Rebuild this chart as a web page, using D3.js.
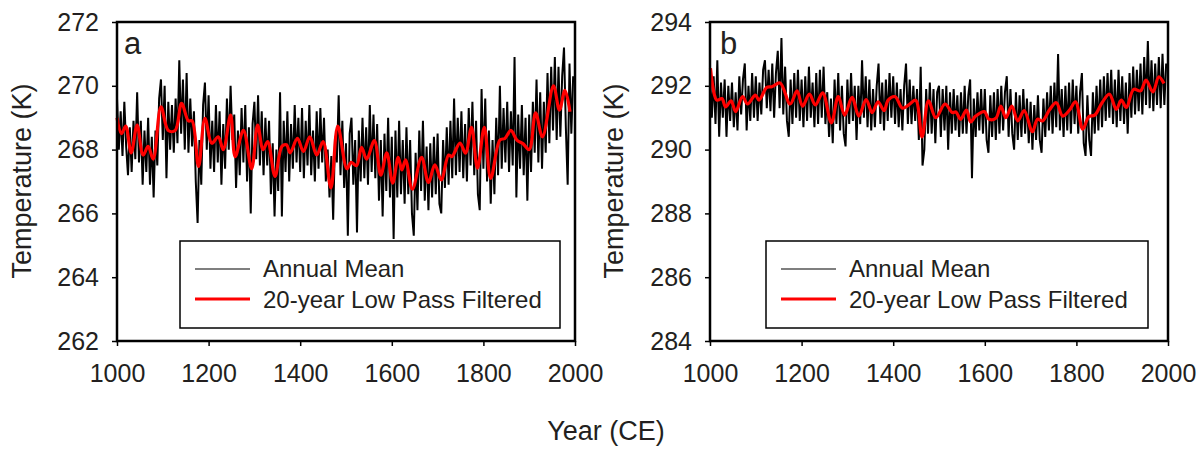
<!DOCTYPE html>
<html>
<head>
<meta charset="utf-8">
<script src="https://cdn.jsdelivr.net/npm/d3@7"></script>
<style>
  body { margin: 0; background: #fff; }
</style>
</head>
<body>
<div id="chart"></div>
<script>
// Annual means, one value every 4 years (1000 ... 1996)
const annualYears = d3.range(1000, 2000, 4);

const annualA = [
  269.6, 268.0, 269.2, 267.8, 269.5, 268.1, 267.2, 268.7, 267.3, 268.9,
  267.7, 269.8, 267.6, 268.9, 266.9, 268.6, 267.3, 269.0, 266.9, 268.4,
  266.5, 268.6, 267.5, 269.6, 270.2, 268.3, 270.0, 267.1, 269.5, 268.0,
  269.4, 267.9, 269.6, 268.2, 270.8, 268.5, 270.2, 268.0, 270.4, 267.9,
  269.6, 268.1, 269.2, 267.0, 265.7, 268.3, 266.9, 269.4, 270.1, 268.0,
  269.7, 267.4, 268.9, 267.3, 269.4, 267.6, 269.2, 266.9, 268.8, 267.4,
  269.6, 268.0, 270.0, 268.3, 269.1, 266.8, 268.6, 267.2, 269.3, 267.6,
  269.4, 267.0, 268.7, 266.0, 268.8, 269.5, 267.7, 269.7, 267.5, 269.2,
  267.2, 269.0, 267.5, 268.9, 266.6, 268.2, 265.9, 268.0, 266.7, 269.8,
  265.9, 268.9, 267.3, 269.2, 267.0, 268.8, 267.4, 269.4, 267.6, 269.0,
  267.3, 269.3, 267.1, 268.9, 267.5, 269.4, 267.2, 268.6, 267.0, 269.2,
  267.4, 269.3, 267.6, 269.0, 267.0, 268.0, 266.5, 267.8, 265.8, 268.4,
  267.6, 269.7, 267.2, 268.9, 266.8, 268.2, 265.3, 268.5, 269.0, 266.9,
  268.3, 265.4, 268.6, 267.0, 269.0, 267.1, 268.7, 266.9, 269.4, 267.3,
  269.1, 267.1, 268.8, 266.4, 268.3, 265.9, 268.5, 266.7, 269.0, 266.5,
  268.4, 265.2, 268.6, 266.5, 268.9, 266.6, 268.3, 266.3, 268.7, 266.6,
  268.3, 266.0, 265.3, 267.9, 266.1, 268.6, 266.7, 268.9, 266.4, 268.1,
  266.1, 268.2, 266.5, 268.4, 266.6, 268.5, 266.3, 266.0, 268.3, 266.8,
  268.7, 266.9, 268.9, 267.1, 269.6, 267.2, 269.0, 267.3, 269.2, 267.1,
  268.8, 267.0, 269.3, 267.5, 269.5, 267.2, 268.9, 266.6, 266.1, 269.9,
  267.4, 269.6, 267.0, 268.6, 266.3, 268.3, 266.6, 269.0, 267.2, 270.0,
  267.4, 269.3, 267.6, 269.5, 267.3, 269.2, 267.5, 270.9, 266.5, 269.1,
  267.4, 269.4, 267.2, 269.0, 266.4, 269.1, 267.3, 269.5, 267.9, 270.2,
  267.6, 269.8, 267.4, 269.5, 267.9, 270.4, 268.2, 270.6, 268.6, 270.9,
  268.3, 270.6, 268.4, 270.3, 271.2, 268.7, 266.9, 270.7, 268.5, 270.3
];

const annualB = [
  292.4, 291.0, 292.3, 290.8, 292.8, 290.4, 292.1, 291.0, 292.2, 290.4,
  292.0, 290.9, 292.1, 290.7, 291.8, 290.6, 292.3, 291.1, 292.2, 292.7,
  290.6, 292.0, 290.9, 292.4, 291.0, 292.3, 290.9, 292.1, 291.1, 292.5,
  292.8, 291.3, 292.5, 291.2, 292.7, 291.0, 292.4, 293.1, 291.3, 293.5,
  291.1, 292.6, 290.9, 290.4, 292.2, 290.8, 292.4, 291.0, 292.5, 290.9,
  292.2, 290.7, 292.3, 290.9, 292.6, 291.0, 292.1, 290.7, 292.4, 290.8,
  292.5, 291.0, 292.6, 290.8, 291.8, 290.4, 291.6, 290.2, 292.2, 290.8,
  292.4, 290.6, 292.0, 290.5, 290.1, 292.2, 290.8, 292.4, 290.9, 292.0,
  290.3, 292.0, 290.8, 292.8, 291.0, 292.3, 290.7, 292.2, 290.6, 291.9,
  290.7, 292.0, 292.7, 290.8, 292.1, 290.6, 292.2, 290.9, 292.4, 291.0,
  292.3, 290.8, 292.1, 290.7, 291.9, 290.6, 292.0, 292.7, 290.8, 292.2,
  290.8, 292.0, 290.9, 291.9, 290.3, 292.6, 289.5, 290.0, 291.9, 290.5,
  292.1, 290.5, 291.9, 290.2, 291.8, 292.0, 290.4, 291.9, 290.6, 292.0,
  290.0, 291.8, 290.5, 291.9, 290.6, 291.7, 290.4, 291.8, 290.5, 292.0,
  290.5, 291.7, 292.2, 289.1, 291.6, 290.4, 291.8, 290.6, 291.9, 290.5,
  291.9, 290.3, 289.9, 291.7, 290.4, 291.8, 290.3, 291.9, 290.5, 292.0,
  290.6, 291.8, 292.3, 290.4, 291.9, 290.5, 290.0, 291.8, 290.3, 291.7,
  290.4, 291.9, 290.5, 291.6, 290.2, 291.5, 290.0, 291.4, 290.3, 291.7,
  290.3, 289.9, 291.6, 290.4, 291.8, 290.6, 292.0, 290.5, 292.1, 290.7,
  293.0, 290.6, 291.9, 290.4, 292.0, 290.6, 292.1, 290.5, 292.2, 290.8,
  292.0, 290.5, 291.8, 292.4, 290.2, 289.8, 291.7, 290.3, 289.8, 291.8,
  290.5, 292.0, 290.6, 292.2, 290.7, 292.3, 290.9, 292.4, 291.0, 292.5,
  290.8, 292.2, 290.7, 292.5, 290.9, 292.3, 290.8, 292.1, 290.5, 292.4,
  291.0, 292.6, 291.1, 292.5, 291.2, 292.7, 291.1, 292.9, 291.4, 293.4,
  291.3, 292.8, 291.2, 292.7, 291.4, 292.9, 291.3, 293.0, 291.4, 292.7
];

// 20-year low pass filtered series (turning points)
const filtYearsA = [1000, 1010, 1019, 1031, 1044, 1057, 1068, 1079, 1096, 1112, 1127, 1141, 1156, 1164,
  1178, 1192, 1207, 1221, 1232, 1248, 1258, 1276, 1294, 1307, 1319, 1329, 1345, 1360, 1370, 1378,
  1394, 1407, 1421, 1436, 1450, 1467, 1482, 1502, 1511, 1523, 1534, 1545, 1562, 1576, 1589, 1602,
  1614, 1622, 1630, 1645, 1665, 1680, 1694, 1708, 1724, 1731, 1749, 1761, 1774, 1787, 1802, 1816,
  1836, 1847, 1860, 1873, 1887, 1900, 1914, 1929, 1953, 1966, 1978, 1989];
const filtA = [269.0, 268.5, 268.74, 267.9, 268.77, 267.83, 268.1, 267.7, 269.34, 268.6, 268.6, 269.45, 268.9, 268.9,
  267.47, 268.98, 268.2, 268.4, 268.0, 269.08, 267.78, 268.6, 267.4, 268.77, 268.0, 268.25, 267.16, 268.1, 268.15, 267.9,
  268.35, 267.94, 268.4, 267.83, 268.25, 266.8, 268.74, 267.4, 267.6, 267.5, 268.07, 267.7, 268.28, 267.2, 267.9, 266.95,
  267.76, 267.36, 267.68, 266.76, 267.76, 266.97, 267.52, 267.05, 267.83, 267.78, 268.2, 267.89, 268.7, 267.42, 268.7, 267.1,
  268.3, 268.35, 268.6, 268.3, 268.18, 268.0, 269.15, 268.4, 270.0, 269.24, 269.86, 269.19];

const filtYearsB = [1001, 1015, 1026, 1034, 1046, 1056, 1071, 1082, 1099, 1107, 1124, 1135, 1153, 1175,
  1190, 1202, 1217, 1230, 1246, 1265, 1280, 1294, 1310, 1325, 1341, 1354, 1367, 1380, 1389, 1404,
  1420, 1434, 1449, 1463, 1477, 1493, 1513, 1529, 1537, 1547, 1560, 1569, 1580, 1599, 1609, 1624,
  1635, 1646, 1659, 1672, 1686, 1704, 1715, 1726, 1741, 1756, 1770, 1785, 1798, 1814, 1827, 1840,
  1856, 1872, 1887, 1898, 1909, 1925, 1940, 1952, 1967, 1980, 1991];
const filtB = [292.55, 291.55, 291.6, 291.34, 291.53, 291.19, 291.66, 291.43, 291.71, 291.55, 291.95, 291.97, 292.09, 291.43,
  291.84, 291.36, 291.74, 291.4, 291.78, 290.84, 291.66, 291.08, 291.64, 291.05, 291.57, 291.16, 291.5, 291.22, 291.55, 291.66,
  291.3, 291.4, 291.55, 290.4, 291.53, 291.0, 291.43, 291.16, 291.18, 290.95, 291.24, 290.87, 291.05, 291.19, 290.95, 290.98,
  291.36, 291.0, 291.36, 290.9, 291.22, 290.56, 290.95, 290.9, 291.24, 291.47, 291.05, 291.24, 291.5, 290.64, 291.03, 291.08,
  291.47, 291.74, 291.26, 291.55, 291.32, 291.89, 291.84, 292.18, 291.81, 292.28, 292.07];

const xTicks = [1000, 1200, 1400, 1600, 1800, 2000];
const yTicksA = [262, 264, 266, 268, 270, 272];
const yTicksB = [284, 286, 288, 290, 292, 294];
const legendLabels = ['Annual Mean', '20-year Low Pass Filtered'];

// Canvas
const width = 1202, height = 449;
const plotTop = 22, plotBottom = 341;
const textColor = '#231f20';
const fontFamily = '"Liberation Sans", Arial, sans-serif';

const svg = d3.select('#chart')
    .append('svg')
    .attr('width', width)
    .attr('height', height)
    .style('font-family', fontFamily);

const panels = [
  {id: 'a', left: 117, right: 575, annual: annualA, fYears: filtYearsA, fVals: filtA,
   yTicks: yTicksA, legendX: 180, legendW: 380, titleX: 31, letterX: 124},
  {id: 'b', left: 710, right: 1168, annual: annualB, fYears: filtYearsB, fVals: filtB,
   yTicks: yTicksB, legendX: 766, legendW: 382, titleX: 623, letterX: 720}
];

panels.forEach(function (p) {
    const x = d3.scaleLinear().domain([1000, 2000]).range([p.left, p.right]);
    const y = d3.scaleLinear().domain(d3.extent(p.yTicks)).range([plotBottom, plotTop]);

    const g = svg.append('g');

    g.append('clipPath').attr('id', 'clip-' + p.id)
        .append('rect')
        .attr('x', p.left).attr('y', plotTop)
        .attr('width', p.right - p.left).attr('height', plotBottom - plotTop);

    // Annual mean line
    g.append('path')
        .datum(annualYears.map((yr, i) => [yr, p.annual[i]]))
        .attr('clip-path', `url(#clip-${p.id})`)
        .attr('fill', 'none')
        .attr('stroke', '#000')
        .attr('stroke-width', 2)
        .attr('d', d3.line().x(d => x(d[0])).y(d => y(d[1])));

    // Low pass line
    g.append('path')
        .datum(p.fYears.map((yr, i) => [yr, p.fVals[i]]))
        .attr('fill', 'none')
        .attr('stroke', '#ff0000')
        .attr('stroke-width', 3.2)
        .attr('stroke-linejoin', 'round')
        .attr('d', d3.line().x(d => x(d[0])).y(d => y(d[1])).curve(d3.curveCatmullRom.alpha(0.5)));

    // Axes
    const yAxis = g.append('g')
        .attr('transform', `translate(${p.left},0)`)
        .call(d3.axisLeft(y).tickValues(p.yTicks).tickSize(5).tickPadding(13).tickFormat(d3.format('d')));
    const xAxis = g.append('g')
        .attr('transform', `translate(0,${plotBottom})`)
        .call(d3.axisBottom(x).tickValues(xTicks).tickSize(5).tickPadding(18).tickFormat(d3.format('d')));

    [yAxis, xAxis].forEach(function (a) {
        a.select('.domain').remove();
        a.attr('font-size', 25).attr('font-family', fontFamily).style('color', textColor);
        a.selectAll('line').attr('stroke', '#000').attr('stroke-width', 1.5);
    });

    // Frame
    g.append('rect')
        .attr('x', p.left).attr('y', plotTop)
        .attr('width', p.right - p.left).attr('height', plotBottom - plotTop)
        .attr('fill', 'none')
        .attr('stroke', '#000')
        .attr('stroke-width', 2.5);

    // Panel letter
    g.append('text')
        .attr('x', p.letterX).attr('y', 54)
        .attr('font-size', 31)
        .attr('fill', textColor)
        .text(p.id);

    // Y axis title
    g.append('text')
        .attr('transform', `translate(${p.titleX},181) rotate(-90)`)
        .attr('text-anchor', 'middle')
        .attr('font-size', 27)
        .attr('fill', textColor)
        .text('Temperature (K)');

    // Legend
    const lg = g.append('g').attr('transform', `translate(${p.legendX},241)`);
    lg.append('rect')
        .attr('width', p.legendW).attr('height', 87)
        .attr('fill', '#fff')
        .attr('stroke', '#000')
        .attr('stroke-width', 1.5);
    const legendStyles = [{color: '#000', w: 1.2}, {color: '#ff0000', w: 3}];
    legendLabels.forEach(function (label, i) {
        lg.append('line')
            .attr('x1', 15).attr('x2', 70)
            .attr('y1', 28 + i * 30).attr('y2', 28 + i * 30)
            .attr('stroke', legendStyles[i].color)
            .attr('stroke-width', legendStyles[i].w);
        lg.append('text')
            .attr('x', 83).attr('y', 36 + i * 31)
            .attr('font-size', 24)
            .attr('fill', textColor)
            .text(label);
    });
});

// Shared x axis title
svg.append('text')
    .attr('x', 606).attr('y', 440)
    .attr('text-anchor', 'middle')
    .attr('font-size', 27)
    .attr('fill', textColor)
    .text('Year (CE)');
</script>
</body>
</html>
